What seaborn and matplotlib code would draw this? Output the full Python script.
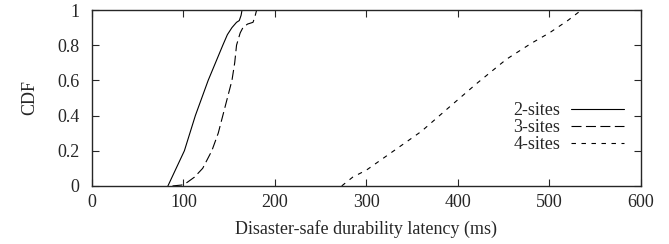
import pandas as pd
import seaborn as sns
import matplotlib.pyplot as plt
from matplotlib.ticker import FormatStrFormatter

# latency (ms) vs CDF
lat_2 = [83, 92, 101, 107, 113, 120, 127, 135, 143, 148, 153, 158, 161, 163, 164]
cdf_2 = [0, 0.1, 0.2, 0.3, 0.4, 0.5, 0.6, 0.7, 0.8, 0.86, 0.9, 0.93, 0.94, 0.97, 1.0]
lat_3 = [88, 98, 104, 112, 121, 131, 138, 143, 148, 153, 156, 158, 162, 165, 170, 176, 178, 180]
cdf_3 = [0, 0.005, 0.02, 0.05, 0.1, 0.2, 0.3, 0.4, 0.5, 0.6, 0.7, 0.8, 0.87, 0.9, 0.92, 0.93, 0.96, 1.0]
lat_4 = [273, 285, 300, 330, 360, 391, 420, 453, 480, 500, 520, 535]
cdf_4 = [0, 0.05, 0.09, 0.2, 0.31, 0.45, 0.58, 0.72, 0.81, 0.87, 0.94, 1.0]
series = ['2-sites', '3-sites', '4-sites']

df = pd.concat([
    pd.DataFrame({'lat': lat_2, 'cdf': cdf_2, 'series': series[0]}),
    pd.DataFrame({'lat': lat_3, 'cdf': cdf_3, 'series': series[1]}),
    pd.DataFrame({'lat': lat_4, 'cdf': cdf_4, 'series': series[2]}),
])

sns.set_style('ticks')
plt.rcParams['font.family'] = ['Liberation Serif', 'DejaVu Serif']
fs = 13

fig, ax = plt.subplots(figsize=(6.69, 2.44), dpi=100)
sns.lineplot(data=df, x='lat', y='cdf', style='series',
             dashes={'2-sites': '', '3-sites': (9, 4), '4-sites': (4, 5)},
             color='black', linewidth=0.8, estimator=None, sort=False, ax=ax)

ax.set_xlim(0, 600)
ax.set_ylim(0, 1)
ax.set_xticks(range(0, 601, 100))
ax.set_yticks([0, 0.2, 0.4, 0.6, 0.8, 1])
ax.yaxis.set_major_formatter(FormatStrFormatter('%g'))
ax.tick_params(direction='in', top=True, right=True, length=5, width=0.8, labelsize=fs)
ax.tick_params(axis='y', pad=9)
ax.tick_params(axis='x', pad=6)
for s in ax.spines.values():
    s.set_linewidth(1.0)
ax.set_xlabel('Disaster-safe durability latency (ms)', fontsize=fs, labelpad=6)
ax.set_ylabel('CDF', fontsize=fs, labelpad=14)

ax.legend(loc='lower right', bbox_to_anchor=(0.985, 0.135), frameon=False, markerfirst=False,
          handlelength=2.9, labelspacing=0.0, fontsize=fs, handletextpad=0.6, borderpad=0)

plt.subplots_adjust(left=0.1375, right=0.958, top=0.959, bottom=0.238)
plt.savefig('out.png')
